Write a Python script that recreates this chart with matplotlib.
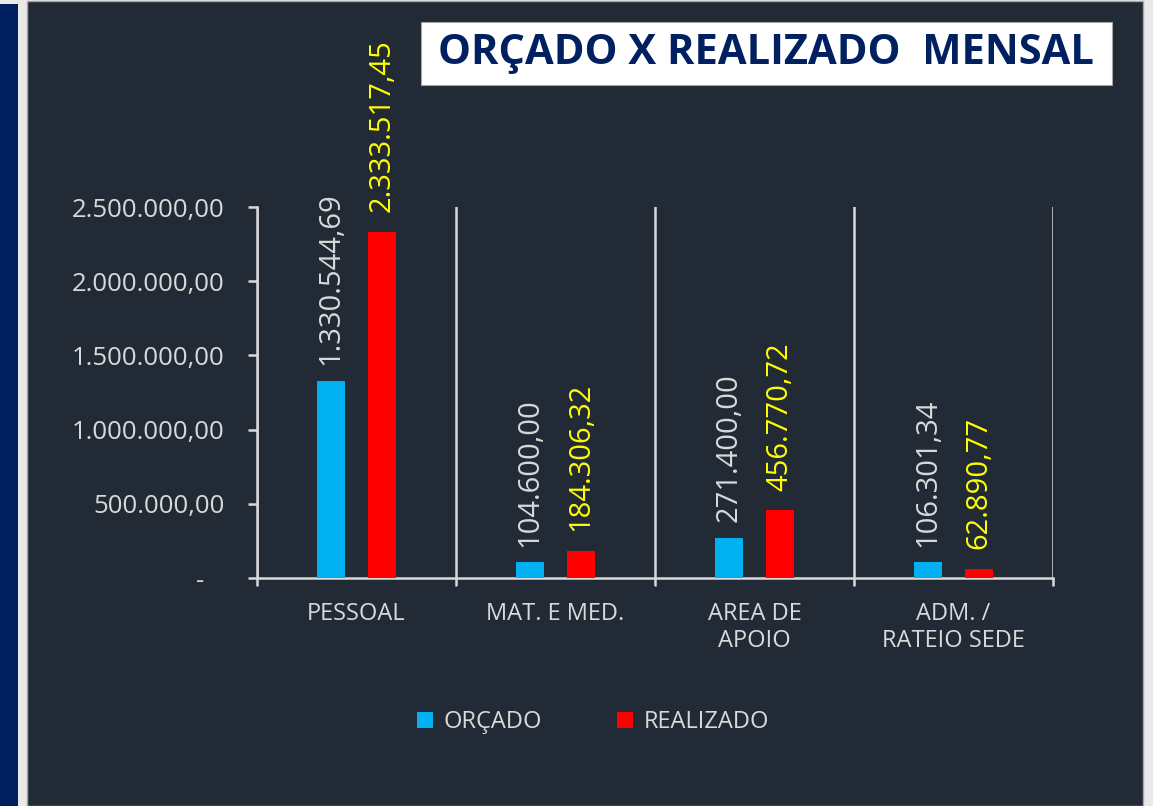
import matplotlib.pyplot as plt
from matplotlib.patches import Rectangle, Patch

plt.rcParams['font.family'] = ['Open Sans', 'DejaVu Sans']

# Data
categorias = ['PESSOAL', 'MAT. E MED.', 'AREA DE\nAPOIO', 'ADM. /\nRATEIO SEDE']
orcado = [1330544.69, 104600.00, 271400.00, 106301.34]
realizado = [2333517.45, 184306.32, 456770.72, 62890.77]
y_ticks = [0, 500000, 1000000, 1500000, 2000000, 2500000]

BG = '#222a35'
FG = '#d9d9d9'
AZUL = '#00b0f0'
VERMELHO = '#ff0000'
AMARELO = '#ffff00'


def fmt_br(v):
    s = f"{v:,.2f}"
    return s.replace(',', '#').replace('.', ',').replace('#', '.')


fig = plt.figure(figsize=(11.53, 8.06), dpi=100)
fig.patch.set_facecolor('#e9e9e9')

W, H = 1153, 806
# left blue strip and dark panel
fig.patches.append(Rectangle((0, 0), 18 / W, (H - 4) / H, transform=fig.transFigure,
                             facecolor='#001f5f', edgecolor='none', zorder=-2))
fig.patches.append(Rectangle((27 / W, 0), (1143 - 27) / W, (H - 1) / H, transform=fig.transFigure,
                             facecolor=BG, edgecolor='#a6a6a6', linewidth=1, zorder=-2))

ax = fig.add_axes([257 / W, 228 / H, 796 / W, 371 / H])
ax.set_facecolor(BG)

x = list(range(len(categorias)))
off = 0.128
w = 0.14
b1 = ax.bar([i - off for i in x], orcado, width=w, color=AZUL, zorder=3)
b2 = ax.bar([i + off for i in x], realizado, width=w, color=VERMELHO, zorder=3)

for rect, v in zip(b1, orcado):
    ax.annotate(fmt_br(v), (rect.get_x() + rect.get_width() / 2, rect.get_height()),
                xytext=(0, 11), textcoords='offset points', rotation=90,
                ha='center', va='bottom', color=FG, fontsize=21, annotation_clip=False)
for rect, v in zip(b2, realizado):
    ax.annotate(fmt_br(v), (rect.get_x() + rect.get_width() / 2, rect.get_height()),
                xytext=(0, 14), textcoords='offset points', rotation=90,
                ha='center', va='bottom', color=AMARELO, fontsize=21, annotation_clip=False)

ax.set_xlim(-0.5, len(categorias) - 0.5)
ax.set_ylim(0, 2500000)

# y axis
ax.set_yticks(y_ticks)
ax.set_yticklabels(['-   '] + [fmt_br(v) for v in y_ticks[1:]])
ax.tick_params(axis='y', colors=FG, labelsize=18.5, length=6.5, width=1.8, pad=17)

# x axis: separators at category boundaries, labels at centers
bounds = [i - 0.5 for i in range(len(categorias) + 1)]
ax.set_xticks(bounds)
ax.set_xticklabels([''] * len(bounds))
ax.set_xticks(x, minor=True)
ax.set_xticklabels(categorias, minor=True)
ax.tick_params(axis='x', which='major', colors=FG, length=6, width=1.8)
ax.tick_params(axis='x', which='minor', colors=FG, length=0, pad=17, labelsize=17)
for lbl in ax.get_xticklabels(minor=True):
    lbl.set_linespacing(1.2)
ax.grid(axis='x', which='major', color=FG, linewidth=1.8, zorder=1)

for s in ['top', 'right']:
    ax.spines[s].set_visible(False)
for s in ['left', 'bottom']:
    ax.spines[s].set_color(FG)
    ax.spines[s].set_linewidth(1.8)

# title box
fig.patches.append(Rectangle((421 / W, (H - 85) / H), (1112 - 421) / W, 63 / H,
                             transform=fig.transFigure, facecolor='white',
                             edgecolor='#a6a6a6', linewidth=0.8, zorder=1))
fig.text(766 / W, 1 - 54 / H, 'ORÇADO X REALIZADO  MENSAL', ha='center', va='center',
         fontsize=30, fontweight='bold', color='#002060', zorder=2)

# legend
handles = [Patch(facecolor=AZUL, label='ORÇADO'), Patch(facecolor=VERMELHO, label='REALIZADO')]
leg = fig.legend(handles=handles, loc='center', bbox_to_anchor=(593 / W, 1 - 722 / H),
                 ncol=2, frameon=False, fontsize=17, handlelength=0.65, handleheight=0.65,
                 handletextpad=0.45, columnspacing=3.2)
for t in leg.get_texts():
    t.set_color(FG)

fig.savefig('out.png', dpi=100, facecolor=fig.get_facecolor())
